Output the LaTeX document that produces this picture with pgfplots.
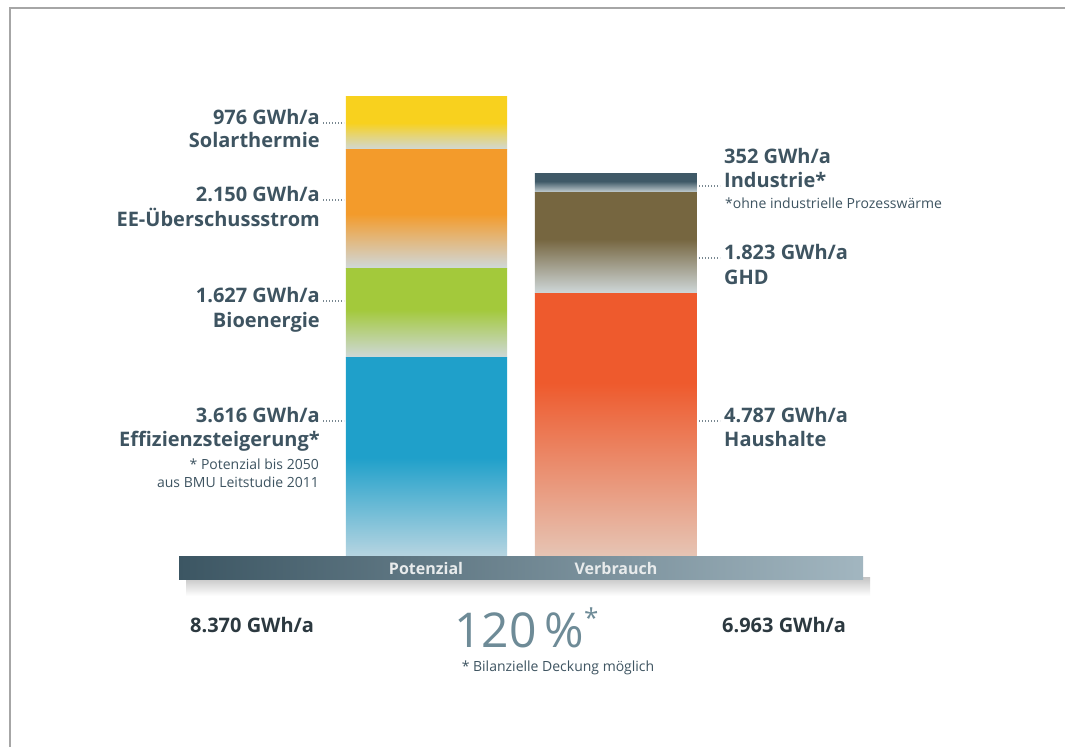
\documentclass[border=0pt]{standalone}
\usepackage{pgfplots}
\pgfplotsset{compat=1.18}
\usepackage{fontspec}
\setmainfont{Open Sans}
\definecolor{cSol}{HTML}{F8D11E}
\definecolor{cEE}{HTML}{F39B2B}
\definecolor{cBio}{HTML}{A3C93B}
\definecolor{cEff}{HTML}{1FA0CA}
\definecolor{cInd}{HTML}{3F5967}
\definecolor{cGHD}{HTML}{766640}
\definecolor{cHH}{HTML}{EE5A2D}
\definecolor{fade}{HTML}{CFD8DA}
\definecolor{fadeEff}{HTML}{B8D5E1}
\definecolor{fadeHH}{HTML}{E6C5B5}
\definecolor{txt}{HTML}{3E5461}
\definecolor{txtdark}{HTML}{2C3940}
\definecolor{pct}{HTML}{6E8B97}
\definecolor{baseL}{HTML}{3C5663}
\definecolor{baseR}{HTML}{A2B6C0}
\pgfdeclareverticalshading{shSol}{100bp}{color(0bp)=(fade); color(25bp)=(fade); color(50bp)=(cSol); color(100bp)=(cSol)}
\pgfdeclareverticalshading{shEE}{100bp}{color(0bp)=(fade); color(25bp)=(fade); color(48bp)=(cEE); color(100bp)=(cEE)}
\pgfdeclareverticalshading{shBio}{100bp}{color(0bp)=(fade); color(25bp)=(fade); color(52bp)=(cBio); color(100bp)=(cBio)}
\pgfdeclareverticalshading{shEff}{100bp}{color(0bp)=(fadeEff); color(25bp)=(fadeEff); color(50bp)=(cEff); color(100bp)=(cEff)}
\pgfdeclareverticalshading{shInd}{100bp}{color(0bp)=(fade); color(25bp)=(fade); color(55bp)=(cInd); color(100bp)=(cInd)}
\pgfdeclareverticalshading{shGHD}{100bp}{color(0bp)=(fade); color(25bp)=(fade); color(52bp)=(cGHD); color(100bp)=(cGHD)}
\pgfdeclareverticalshading{shHH}{100bp}{color(0bp)=(fadeHH); color(25bp)=(fadeHH); color(58bp)=(cHH); color(100bp)=(cHH)}
\newcommand{\bigf}{\fontsize{20bp}{24bp}\selectfont\bfseries}
\newcommand{\smallf}{\fontsize{14bp}{16bp}\selectfont}
\begin{document}
\begin{tikzpicture}[x=1bp,y=1bp]
\fill[white] (0,0) rectangle (1065,747);
\path[use as bounding box] (0,0) rectangle (1065,747);
\begin{scope}[shift={(0,747)}, y=-1bp]
\draw[color=black!35, line width=1.5bp] (10,747) -- (10,8) -- (1065,8);
\fill[top color=black!22, bottom color=white] (186,578) rectangle (870,596);
\end{scope}
\begin{axis}[at={(0,0)}, anchor=south west, scale only axis, width=1065bp, height=747bp,
  xmin=-2.2507, xmax=3.3694, ymin=-3449.7, ymax=10113, hide axis, clip=false,
  ybar stacked, bar width=161bp]
\addplot[shade, shading=shEff, draw=none] coordinates {(0,3616)};
\addplot[shade, shading=shBio, draw=none] coordinates {(0,1627)};
\addplot[shade, shading=shEE, draw=none] coordinates {(0,2150)};
\addplot[shade, shading=shSol, draw=none] coordinates {(0,976)};
\end{axis}
\begin{axis}[at={(0,0)}, anchor=south west, scale only axis, width=1065bp, height=747bp,
  xmin=-2.2507, xmax=3.3694, ymin=-3449.7, ymax=10113, hide axis, clip=false,
  ybar stacked, bar width=162bp]
\addplot[shade, shading=shHH, draw=none] coordinates {(1,4787)};
\addplot[shade, shading=shGHD, draw=none] coordinates {(1,1823)};
\addplot[shade, shading=shInd, draw=none] coordinates {(1,352)};
\end{axis}
\begin{scope}[shift={(0,747)}, y=-1bp]
% base bar
\fill[left color=baseL, right color=baseR] (179,557) rectangle (863,580);
\node[anchor=base, text=white!88!baseL, font=\fontsize{16bp}{18bp}\selectfont\bfseries] at (426,575) {Potenzial};
\node[anchor=base, text=white!88!baseL, font=\fontsize{16bp}{18bp}\selectfont\bfseries] at (616,575) {Verbrauch};
% left labels
\begin{scope}[every node/.style={anchor=base east, text=txt, inner sep=0pt}]
\node[font=\bigf] at (320,125) {976 GWh/a};
\node[font=\bigf] at (320,148) {Solarthermie};
\node[font=\bigf] at (320,202) {2.150 GWh/a};
\node[font=\bigf] at (320,227) {EE-Überschussstrom};
\node[font=\bigf] at (320,303) {1.627 GWh/a};
\node[font=\bigf] at (320,328) {Bioenergie};
\node[font=\bigf] at (320,423) {3.616 GWh/a};
\node[font=\bigf] at (320,447) {Effizienzsteigerung*};
\node[font=\smallf] at (319,470) {* Potenzial bis 2050};
\node[font=\smallf] at (319,488) {aus BMU Leitstudie 2011};
\end{scope}
\begin{scope}[every node/.style={anchor=base west, text=txt, inner sep=0pt}]
\node[font=\bigf] at (724,164) {352 GWh/a};
\node[font=\bigf] at (724,188) {Industrie*};
\node[font=\smallf] at (725,209) {*ohne industrielle Prozesswärme};
\node[font=\bigf] at (724,260) {1.823 GWh/a};
\node[font=\bigf] at (724,285) {GHD};
\node[font=\bigf] at (724,423) {4.787 GWh/a};
\node[font=\bigf] at (724,447) {Haushalte};
\end{scope}
% leader dots
\begin{scope}[txt!70, line width=1.3bp, dash pattern=on 1.3bp off 1.7bp]
\draw (323,123) -- (344,123);
\draw (323,200) -- (344,200);
\draw (323,301) -- (344,301);
\draw (323,421) -- (344,421);
\draw (699,186) -- (720,186);
\draw (699,258) -- (720,258);
\draw (699,421) -- (720,421);
\end{scope}
% bottom totals
\node[anchor=base west, inner sep=0pt, text=txtdark, font=\bigf] at (190,633) {8.370 GWh/a};
\node[anchor=base west, inner sep=0pt, text=txtdark, font=\bigf] at (722,633) {6.963 GWh/a};
\node[anchor=base west, inner sep=0pt, text=pct, font=\fontsize{48bp}{54bp}\selectfont] at (454,648) {120\,\%};
\node[anchor=base west, inner sep=0pt, text=pct, font=\fontsize{26bp}{28bp}\selectfont] at (584,628) {*};
\node[anchor=base, inner sep=0pt, text=txt, font=\smallf] at (558,672) {* Bilanzielle Deckung möglich};
\end{scope}
\end{tikzpicture}
\end{document}
